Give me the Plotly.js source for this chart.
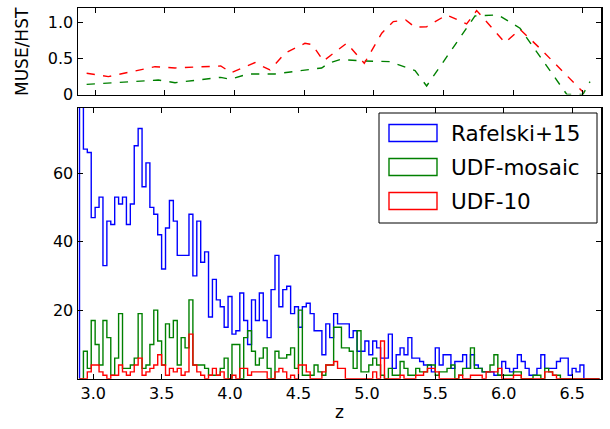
<!DOCTYPE html>
<html>
<head>
<meta charset="utf-8">
<script src="https://cdn.plot.ly/plotly-3.0.1.min.js"></script>
<style>html,body{margin:0;padding:0;background:#fff;}#chart{width:610px;height:429px;}</style>
</head>
<body>
<div id="chart"></div>
<script>
// ---- Histogram data (counts per bin) ----
var binStart = 2.9;
var binWidth = 0.2 / 7;
var rafelskiCounts = [100,67,66,47,50,53,33,46,45,53,51,53,45,51,68,73,56,63,50,48,42,32,44,52,46,36,36,36,48,30,46,34,37,18,29,23,21,15,24,13,14,25,17,10,23,17,25,17,12,26,36,21,26,27,19,21,15,21,22,19,14,14,7,16,12,19,16,16,16,12,14,8,8,11,7,11,9,6,6,13,3,7,9,7,12,6,6,5,4,4,2,9,4,7,7,3,5,5,7,3,7,4,3,2,2,2,1,1,5,3,2,3,7,5,3,1,1,3,7,3,3,3,5,6,6,1,3,2,4,0,0,0,0];
var mosaicCounts = [0,8,3,17,10,4,17,12,1,6,19,3,3,4,6,19,3,4,10,20,11,4,16,12,17,4,12,9,23,4,4,4,3,1,1,1,3,6,0,10,10,0,12,14,8,4,6,9,3,0,8,6,6,7,9,3,20,1,1,1,4,2,1,4,4,15,15,9,9,8,3,14,2,2,4,6,4,1,0,3,1,1,5,3,1,1,3,2,2,4,4,1,2,2,3,4,0,1,3,3,9,3,3,2,2,4,7,1,1,1,1,2,2,0,0,0,1,1,0,3,2,1,1,0,0,0,0,0,0,0,0,0,0];
var udf10Counts = [0,0,2,4,4,2,1,0,1,1,4,2,1,2,4,6,1,2,3,4,7,4,1,3,2,3,1,2,13,4,2,1,0,1,3,1,2,0,0,1,0,3,3,1,2,2,2,2,0,0,2,3,2,0,1,0,4,4,2,0,0,0,2,4,4,5,3,3,0,0,0,0,0,0,0,2,0,11,0,0,0,0,1,0,0,0,1,1,2,3,3,2,0,0,0,0,0,1,0,0,1,1,1,0,2,2,2,3,0,0,0,1,1,0,0,0,0,0,0,2,2,1,0,0,0,0,0,0,0,0,0,0,0];

// ---- Ratio data (MUSE/HST) ----
var ratioUdf10Z = [2.94,3.096,3.43,3.574,3.902,3.976,4.148,4.255,4.363,4.506,4.559,4.638,4.806,4.932,5.057,5.14,5.229,5.296,5.379,5.523,5.666,5.738,5.941,6.049,6.204,6.503];
var ratioUdf10 = [0.294,0.248,0.386,0.368,0.396,0.303,0.442,0.340,0.572,0.711,0.692,0.465,0.711,0.433,0.85,1.011,1.035,0.933,0.94,1.104,0.979,1.164,0.720,0.905,0.618,0.03];
var ratioMosaicZ = [2.94,3.454,3.574,3.902,3.968,4.100,4.291,4.626,4.674,4.758,4.932,5.116,5.296,5.379,5.726,5.893,6.049,6.385,6.50,6.551];
var ratioMosaic = [0.141,0.201,0.164,0.238,0.211,0.285,0.285,0.368,0.433,0.484,0.465,0.456,0.331,0.118,1.090,1.104,0.919,0.0,0.0,0.178];

var seriesNames = ['Rafelski+15','UDF-mosaic','UDF-10'];
var seriesColors = ['#0000ff','#008000','#ff0000'];
var xTickVals = [3.0,3.5,4.0,4.5,5.0,5.5,6.0,6.5];

function stepXY(counts){
  var xs=[binStart], ys=[0];
  for (var i=0;i<counts.length;i++){ xs.push(binStart+i*binWidth); ys.push(counts[i]); }
  xs.push(binStart+counts.length*binWidth); ys.push(0);
  return {x:xs,y:ys};
}

var traces=[];
[rafelskiCounts, mosaicCounts, udf10Counts].forEach(function(c,k){
  var s=stepXY(c);
  traces.push({type:'scatter',mode:'lines',x:s.x,y:s.y,xaxis:'x',yaxis:'y',
    line:{shape:'hv',color:seriesColors[k],width:1.4},name:seriesNames[k],showlegend:false,hoverinfo:'skip'});
});
traces.push({type:'scatter',mode:'lines',x:ratioMosaicZ,y:ratioMosaic,xaxis:'x2',yaxis:'y2',
  line:{color:seriesColors[1],width:1.4,dash:'8.3px,8.3px'},showlegend:false,hoverinfo:'skip'});
traces.push({type:'scatter',mode:'lines',x:ratioUdf10Z,y:ratioUdf10,xaxis:'x2',yaxis:'y2',
  line:{color:seriesColors[2],width:1.4,dash:'8.3px,8.3px'},showlegend:false,hoverinfo:'skip'});

function px(x){return x/610;}
function py(y){return 1-y/429;}

var font = 'DejaVu Sans, Liberation Sans, sans-serif';
var axCommon = {showgrid:false,zeroline:false,showline:true,linecolor:'#000',linewidth:1.5,
  mirror:'ticks',ticks:'inside',ticklen:5,tickwidth:1,tickcolor:'#000',
  tickfont:{family:font,size:16,color:'#000'}};

var shapes=[], annotations=[];
// legend box
shapes.push({type:'rect',xref:'paper',yref:'paper',x0:px(379),x1:px(597),y0:py(223),y1:py(113),
  line:{color:'#000',width:1},fillcolor:'#fff',layer:'above'});
var legY=[133,167,201];
for (var k=0;k<3;k++){
  shapes.push({type:'rect',xref:'paper',yref:'paper',x0:px(389),x1:px(437),y0:py(legY[k]+8.5),y1:py(legY[k]-8.5),
    line:{color:seriesColors[k],width:1.4},fillcolor:'rgba(0,0,0,0)',layer:'above'});
  annotations.push({xref:'paper',yref:'paper',x:px(449),y:py(legY[k]),xanchor:'left',yanchor:'middle',
    text:seriesNames[k],showarrow:false,font:{family:font,size:21.5,color:'#000'}});
}
annotations.push({xref:'paper',yref:'paper',x:px(340),y:py(412),xanchor:'center',yanchor:'middle',
  text:'z',showarrow:false,font:{family:font,size:17,color:'#000'}});
annotations.push({xref:'paper',yref:'paper',x:px(22),y:py(52),xanchor:'center',yanchor:'middle',
  text:'MUSE/HST',textangle:-90,showarrow:false,font:{family:font,size:17,color:'#000'}});

var layout = {
  width:610,height:429,margin:{l:0,r:0,t:0,b:0},paper_bgcolor:'#fff',plot_bgcolor:'#fff',
  showlegend:false,
  xaxis:Object.assign({},axCommon,{domain:[px(78),px(601)],range:[2.889,6.711],anchor:'y',
    tickvals:xTickVals,tickformat:'.1f'}),
  yaxis:Object.assign({},axCommon,{domain:[py(378.7),py(108)],range:[0,79],anchor:'x',
    tickvals:[20,40,60]}),
  xaxis2:Object.assign({},axCommon,{domain:[px(78),px(601)],range:[2.878,6.630],anchor:'y2',
    tickvals:xTickVals,showticklabels:false}),
  yaxis2:Object.assign({},axCommon,{domain:[py(94.5),py(8)],range:[0,1.2],anchor:'x2',
    tickvals:[0,0.5,1.0],ticktext:['0','0.5','1.0']}),
  shapes:shapes,annotations:annotations
};
Plotly.newPlot('chart',traces,layout,{staticPlot:true,displayModeBar:false});
</script>
</body>
</html>
